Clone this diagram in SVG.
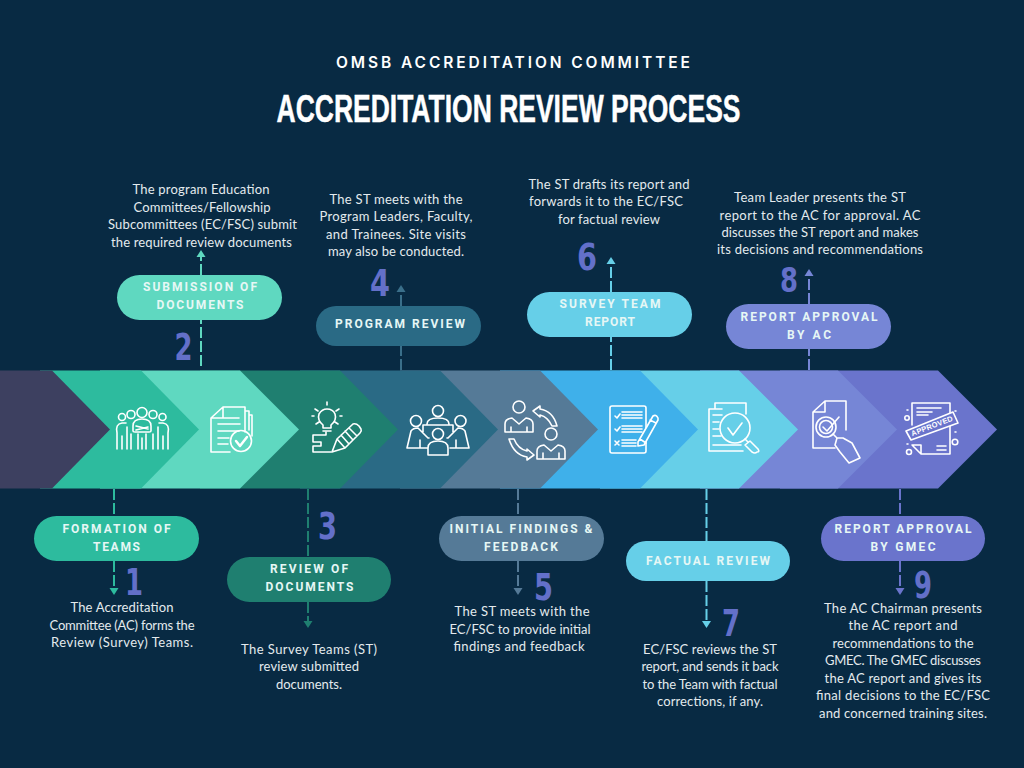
<svg xmlns="http://www.w3.org/2000/svg" width="1024" height="768" viewBox="0 0 1024 768">
<style>
.bg{fill:#082a43}
.ttl{font-family:"Liberation Sans Narrow","Liberation Sans",sans-serif;font-weight:700;font-size:38px;fill:#fff;stroke:#fff;stroke-width:.5px;text-anchor:middle}
.sub{font-family:"Inter","Open Sans",sans-serif;font-weight:600;font-size:15.5px;fill:#fff;text-anchor:middle}
.d{font-family:"Lato","Open Sans",sans-serif;font-size:13px;fill:#e4eaee;text-anchor:middle}
.l{font-family:"Roboto","Liberation Sans",sans-serif;font-weight:700;font-size:12px;fill:#e6f7f5;text-anchor:middle}
.n{font-family:"DejaVu Sans",sans-serif;font-weight:700;font-size:37px;fill:#6370c9;text-anchor:middle}
.i{fill:none;stroke:#fff;stroke-width:1.6;stroke-linejoin:round;stroke-linecap:round}
.c{fill:none;stroke-width:2;stroke-dasharray:11 3}
.st{font-family:"Liberation Sans",sans-serif;font-weight:700;font-size:7.5px;fill:#fff;text-anchor:middle}
</style>
<rect class="bg" width="1024" height="768"/>
<text class="sub" x="513" y="68" textLength="354" lengthAdjust="spacing">OMSB ACCREDITATION COMMITTEE</text>
<text class="ttl" x="508.500" y="122" textLength="464" lengthAdjust="spacingAndGlyphs">ACCREDITATION REVIEW PROCESS</text>

<g id="band">
<path fill="#6a74cc" d="M780 370.500H938L997 429.500L938 488.500H780Z"/>
<path fill="#7686d6" d="M700 370.500H838L897 429.500L838 488.500H700Z"/>
<path fill="#66cfe8" d="M600 370.500H739L798 429.500L739 488.500H600Z"/>
<path fill="#3fb0ea" d="M500 370.500H640L698 429.500L640 488.500H500Z"/>
<path fill="#557a97" d="M400 370.500H540L598 429.500L540 488.500H400Z"/>
<path fill="#2a6a85" d="M300 370.500H440L498 429.500L440 488.500H300Z"/>
<path fill="#1f7f70" d="M200 370.500H340L398 429.500L340 488.500H200Z"/>
<path fill="#5fd8c0" d="M100 370.500H240L299 429.500L240 488.500H100Z"/>
<path fill="#2dbb9e" d="M40 370.500H141L199 429.500L141 488.500H40Z"/>
<path fill="#3d4060" d="M0 370.500H52L110 429.500L52 488.500H0Z"/>
</g>

<g id="connectors">
<path class="c" stroke="#2dbb9e" d="M114 489V516M114 561V590"/><path fill="#2dbb9e" d="M109.500 588H118.500L114 595Z"/>
<path class="c" stroke="#5fd8c0" d="M201 366V320M201 275V255"/><path fill="#5fd8c0" d="M196.500 257H205.500L201 250Z"/>
<path class="c" stroke="#1f7f70" d="M308 489V557M308 602V623"/><path fill="#1f7f70" d="M303.500 621H312.500L308 628Z"/>
<path class="c" stroke="#3a6f8a" d="M401 370V346M401 306V290"/><path fill="#3a6f8a" d="M396.500 292H405.500L401 285Z"/>
<path class="c" stroke="#557a97" d="M518 489V516M518 561V590"/><path fill="#557a97" d="M513.500 588H522.500L518 595Z"/>
<path class="c" stroke="#66cfe8" d="M611 370V337M611 292V262"/><path fill="#66cfe8" d="M606.500 264H615.500L611 257Z"/>
<path class="c" stroke="#66cfe8" d="M706.500 489V541M706.500 581V623"/><path fill="#66cfe8" d="M702 621H711L706.500 628Z"/>
<path class="c" stroke="#7686d6" d="M809 370V349M809 304V274"/><path fill="#7686d6" d="M804.500 276H813.500L809 269Z"/>
<path class="c" stroke="#6a74cc" d="M900 489V516M900 561V590"/><path fill="#6a74cc" d="M895.500 588H904.500L900 595Z"/>
</g>

<g id="icons">
<g id="icon1" class="i">
<circle cx="142" cy="412.500" r="5"/><circle cx="131" cy="414.500" r="4"/><circle cx="153" cy="414.500" r="4"/><circle cx="122" cy="417" r="3.500"/><circle cx="162.500" cy="417" r="3.500"/>
<path d="M133 426Q133 419 142 419Q151 419 151 426V431Q151 432 149 432H135Q133 432 133 431ZM136 426L148 429M136 430L148 427"/>
<path d="M117 449V433Q115 424 122 423H126M168 449V433Q170 424 163 423H159M122 436V449M163 436V449M127 427V449M158 427V449M131 434V449M153 434V449M138 434V449M146 434V449M142 438V449"/>
</g>
<g id="icon2" class="i">
<path d="M230 452H211V418L223 407H245V432M211 418H223V407M245 411H249V430M249 415H252V436M218 418H239M218 424H240M218 431H239M218 438H229M218 444H228"/>
<circle cx="241" cy="441" r="10.500"/><path d="M236 441L240 446L247 437" stroke-width="2.500"/>
</g>
<g id="icon3" class="i">
<path d="M323 428V425Q317 420 319 414Q322 409 327 409Q333 409 335 414Q337 420 331 425V428ZM323 431H331M327 402V405M315 409L318 411M339 409L336 411M316 424L319 422M338 424L335 422M312 416H314M340 416H342"/>
<path d="M326 432V435H313V442H321V446H313V452H331"/>
<path d="M332 452L337 439L353 424Q356 423 359 426L361 429Q362 431 360 433L345 448ZM337 439L345 448M341 435L349 444M345 431L353 440M349 428L357 436"/>
</g>
<g id="icon4" class="i">
<circle cx="438" cy="411" r="5.500"/><circle cx="416" cy="421" r="5.500"/><circle cx="460.500" cy="421" r="5.500"/><circle cx="438" cy="434" r="5.500"/>
<path d="M427 424Q427 418 438 418Q449 418 449 424M423 425H453V432M423 425V432M407 448L411 431Q413 428 418 428L428 438H429M469 448L465 431Q463 428 458 428L448 438H447M407 448H420M456 448H469M420 440V448H427M456 440V448H450M428 455V448Q428 441 438 441Q448 441 448 448V455Z"/>
</g>
<g id="icon5" class="i">
<circle cx="519" cy="407" r="6"/><circle cx="551" cy="434" r="6"/>
<path d="M505 432V424Q505 419 512 418L519 424L526 418Q533 419 533 424V432ZM511 427V432M527 427V432M537 459V451Q537 446 544 445L551 451L558 445Q565 446 565 451V459ZM543 453V459M559 453V459"/>
<path d="M533 411L540 406V409Q553 411 557 426H552Q548 417 540 415V417ZM534 455L527 460V457Q514 455 509 439H514Q518 449 527 451V449Z"/>
</g>
<g id="icon6" class="i">
<rect x="610" y="406" width="36" height="47" rx="2"/>
<path d="M622 412H642M622 415H642M622 418H642M622 426H642M622 429H642M622 432H642M622 440H636M622 443H636M622 446H636M615 416L617 418L620 414M615 429L617 431L620 427M615 441L619 445M619 441L615 445"/>
<path d="M638 442L653 416Q656 414 658 418L658 420L644 445L638 446ZM640 439L646 443M650 420L656 423" fill="#3fb0ea"/>
</g>
<g id="icon7" class="i">
<path d="M715 408V403H746V414M709 451V409H722M709 451H743M713 415H722M713 422H719M713 429H719M713 436H721M713 445H741"/>
<circle cx="735" cy="428" r="15"/><path d="M728 428L733 435L742 423M745 439L748 442M745 445L750 441L758 449Q760 452 757 452Q755 454 752 452Z"/>
</g>
<g id="icon8" class="i">
<path d="M846 430V401H825L813 412V448H835M813 412H825V401"/>
<circle cx="826" cy="427" r="10"/><circle cx="826" cy="427" r="6.500"/><path d="M823 427L827 431L839 417M833 434L837 438M837 438L843 438L852 443L860 458L849 463L840 452L835 445Z"/>
</g>
<g id="icon9" class="i" stroke-width="2">
<path d="M912 425V403H950V454H921L912 445M912 445H921V454M917 408H941M917 412H932M917 415H928M937 446H946M937 450H946"/>
<path d="M906 431L953 412L958 423L911 440Z" fill="#6a74cc"/>
<circle cx="907" cy="418" r="2.200"/><circle cx="955" cy="442" r="2.800"/><circle cx="909" cy="452" r="2.500"/><path d="M907 410H908M955 411H956M955 432H956M907 444H908"/>
</g>
<text class="st" transform="translate(932 426) rotate(-21)" y="2.500" textLength="44" lengthAdjust="spacing">APPROVED</text>
</g>

<g id="step1"><rect x="34" y="516" width="165" height="45" rx="22.500" fill="#2dbb9e"/>
<text class="l" x="116.500" y="533" textLength="108" lengthAdjust="spacing">FORMATION OF</text><text class="l" x="116.500" y="551" textLength="47" lengthAdjust="spacing">TEAMS</text>
<text class="n" x="134" y="595" textLength="18" lengthAdjust="spacingAndGlyphs">1</text>
<text class="d" x="122" y="612" textLength="103" lengthAdjust="spacing">The Accreditation</text><text class="d" x="122" y="630" textLength="145" lengthAdjust="spacing">Committee (AC) forms the</text><text class="d" x="122" y="647" textLength="142" lengthAdjust="spacing">Review (Survey) Teams.</text></g>

<g id="step2"><rect x="117" y="275" width="165" height="45" rx="22.500" fill="#5fd8c0"/>
<text class="l" x="200" y="291" textLength="114" lengthAdjust="spacing">SUBMISSION OF</text><text class="l" x="200" y="309" textLength="87" lengthAdjust="spacing">DOCUMENTS</text>
<text class="n" x="183.500" y="360" textLength="18" lengthAdjust="spacingAndGlyphs">2</text>
<text class="d" x="201" y="194" textLength="137" lengthAdjust="spacing">The program Education</text><text class="d" x="202" y="212" textLength="137" lengthAdjust="spacing">Committees/Fellowship</text><text class="d" x="202.500" y="229" textLength="189" lengthAdjust="spacing">Subcommittees (EC/FSC) submit</text><text class="d" x="201.500" y="247" textLength="181" lengthAdjust="spacing">the required review documents</text></g>

<g id="step3"><rect x="227" y="557" width="164" height="45" rx="22.500" fill="#1f7f70"/>
<text class="l" x="309" y="573" textLength="78" lengthAdjust="spacing">REVIEW OF</text><text class="l" x="309.500" y="591" textLength="88" lengthAdjust="spacing">DOCUMENTS</text>
<text class="n" x="327.500" y="539" textLength="19" lengthAdjust="spacingAndGlyphs">3</text>
<text class="d" x="309" y="654" textLength="136" lengthAdjust="spacing">The Survey Teams (ST)</text><text class="d" x="309" y="671" textLength="100" lengthAdjust="spacing">review submitted</text><text class="d" x="309" y="689" textLength="66" lengthAdjust="spacing">documents.</text></g>

<g id="step4"><rect x="316" y="306" width="165" height="40" rx="20" fill="#2a6a85"/>
<text class="l" x="400" y="328" textLength="130" lengthAdjust="spacing">PROGRAM REVIEW</text>
<text class="n" x="380" y="296" textLength="20" lengthAdjust="spacingAndGlyphs">4</text>
<text class="d" x="396" y="204" textLength="133" lengthAdjust="spacing">The ST meets with the</text><text class="d" x="396" y="221" textLength="153" lengthAdjust="spacing">Program Leaders, Faculty,</text><text class="d" x="396" y="239" textLength="140" lengthAdjust="spacing">and Trainees.  Site visits</text><text class="d" x="396" y="256" textLength="136" lengthAdjust="spacing">may also be conducted.</text></g>

<g id="step5"><rect x="439" y="516" width="165" height="45" rx="22.500" fill="#557a97"/>
<text class="l" x="521" y="533" textLength="143" lengthAdjust="spacing">INITIAL FINDINGS &amp;</text><text class="l" x="521" y="551" textLength="74" lengthAdjust="spacing">FEEDBACK</text>
<text class="n" x="543.500" y="600" textLength="19" lengthAdjust="spacingAndGlyphs">5</text>
<text class="d" x="522" y="616" textLength="135" lengthAdjust="spacing">The ST meets with the</text><text class="d" x="520" y="634" textLength="141" lengthAdjust="spacing">EC/FSC to provide initial</text><text class="d" x="519" y="651" textLength="131" lengthAdjust="spacing">findings and feedback</text></g>

<g id="step6"><rect x="527" y="292" width="165" height="45" rx="22.500" fill="#66cfe8"/>
<text class="l" x="610" y="308" textLength="101" lengthAdjust="spacing">SURVEY TEAM</text><text class="l" x="610" y="326" textLength="50" lengthAdjust="spacing">REPORT</text>
<text class="n" x="587" y="270" textLength="20" lengthAdjust="spacingAndGlyphs">6</text>
<text class="d" x="609" y="189" textLength="161" lengthAdjust="spacing">The ST drafts its report and</text><text class="d" x="606" y="206" textLength="154" lengthAdjust="spacing">forwards it to the EC/FSC</text><text class="d" x="609" y="224" textLength="102" lengthAdjust="spacing">for factual review</text></g>

<g id="step7"><rect x="626" y="541" width="164" height="40" rx="20" fill="#66cfe8"/>
<text class="l" x="708" y="565" textLength="124" lengthAdjust="spacing">FACTUAL REVIEW</text>
<text class="n" x="731" y="636" textLength="18" lengthAdjust="spacingAndGlyphs">7</text>
<text class="d" x="710" y="654" textLength="134" lengthAdjust="spacing">EC/FSC reviews the ST</text><text class="d" x="710" y="671" textLength="137" lengthAdjust="spacing">report, and sends it back</text><text class="d" x="710" y="689" textLength="135" lengthAdjust="spacing">to the Team with factual</text><text class="d" x="710" y="706" textLength="106" lengthAdjust="spacing">corrections, if any.</text></g>

<g id="step8"><rect x="726" y="304" width="165" height="45" rx="22.500" fill="#7686d6"/>
<text class="l" x="809" y="321" textLength="137" lengthAdjust="spacing">REPORT APPROVAL</text><text class="l" x="809" y="339" textLength="44" lengthAdjust="spacing">BY AC</text>
<text class="n" x="789" y="292" style="font-size:33px" textLength="18" lengthAdjust="spacingAndGlyphs">8</text>
<text class="d" x="820" y="202" textLength="172" lengthAdjust="spacing">Team Leader presents the ST</text><text class="d" x="820" y="220" textLength="201" lengthAdjust="spacing">report to the AC for approval.  AC</text><text class="d" x="820" y="237" textLength="197" lengthAdjust="spacing">discusses the ST report and makes</text><text class="d" x="820" y="254" textLength="206" lengthAdjust="spacing">its decisions and recommendations</text></g>

<g id="step9"><rect x="821" y="516" width="164" height="45" rx="22.500" fill="#6a74cc"/>
<text class="l" x="903" y="533" textLength="137" lengthAdjust="spacing">REPORT APPROVAL</text><text class="l" x="903" y="551" textLength="65" lengthAdjust="spacing">BY GMEC</text>
<text class="n" x="923" y="598" textLength="18" lengthAdjust="spacingAndGlyphs">9</text>
<text class="d" x="903" y="613" textLength="158" lengthAdjust="spacing">The AC Chairman presents</text><text class="d" x="903" y="630" textLength="109" lengthAdjust="spacing">the AC report and</text><text class="d" x="903" y="648" textLength="141" lengthAdjust="spacing">recommendations to the</text><text class="d" x="903" y="665" textLength="156" lengthAdjust="spacing">GMEC.  The GMEC discusses</text><text class="d" x="903" y="683" textLength="157" lengthAdjust="spacing">the AC report and gives its</text><text class="d" x="903" y="700" textLength="174" lengthAdjust="spacing">final decisions to the EC/FSC</text><text class="d" x="903" y="718" textLength="168" lengthAdjust="spacing">and concerned training sites.</text></g>
</svg>
